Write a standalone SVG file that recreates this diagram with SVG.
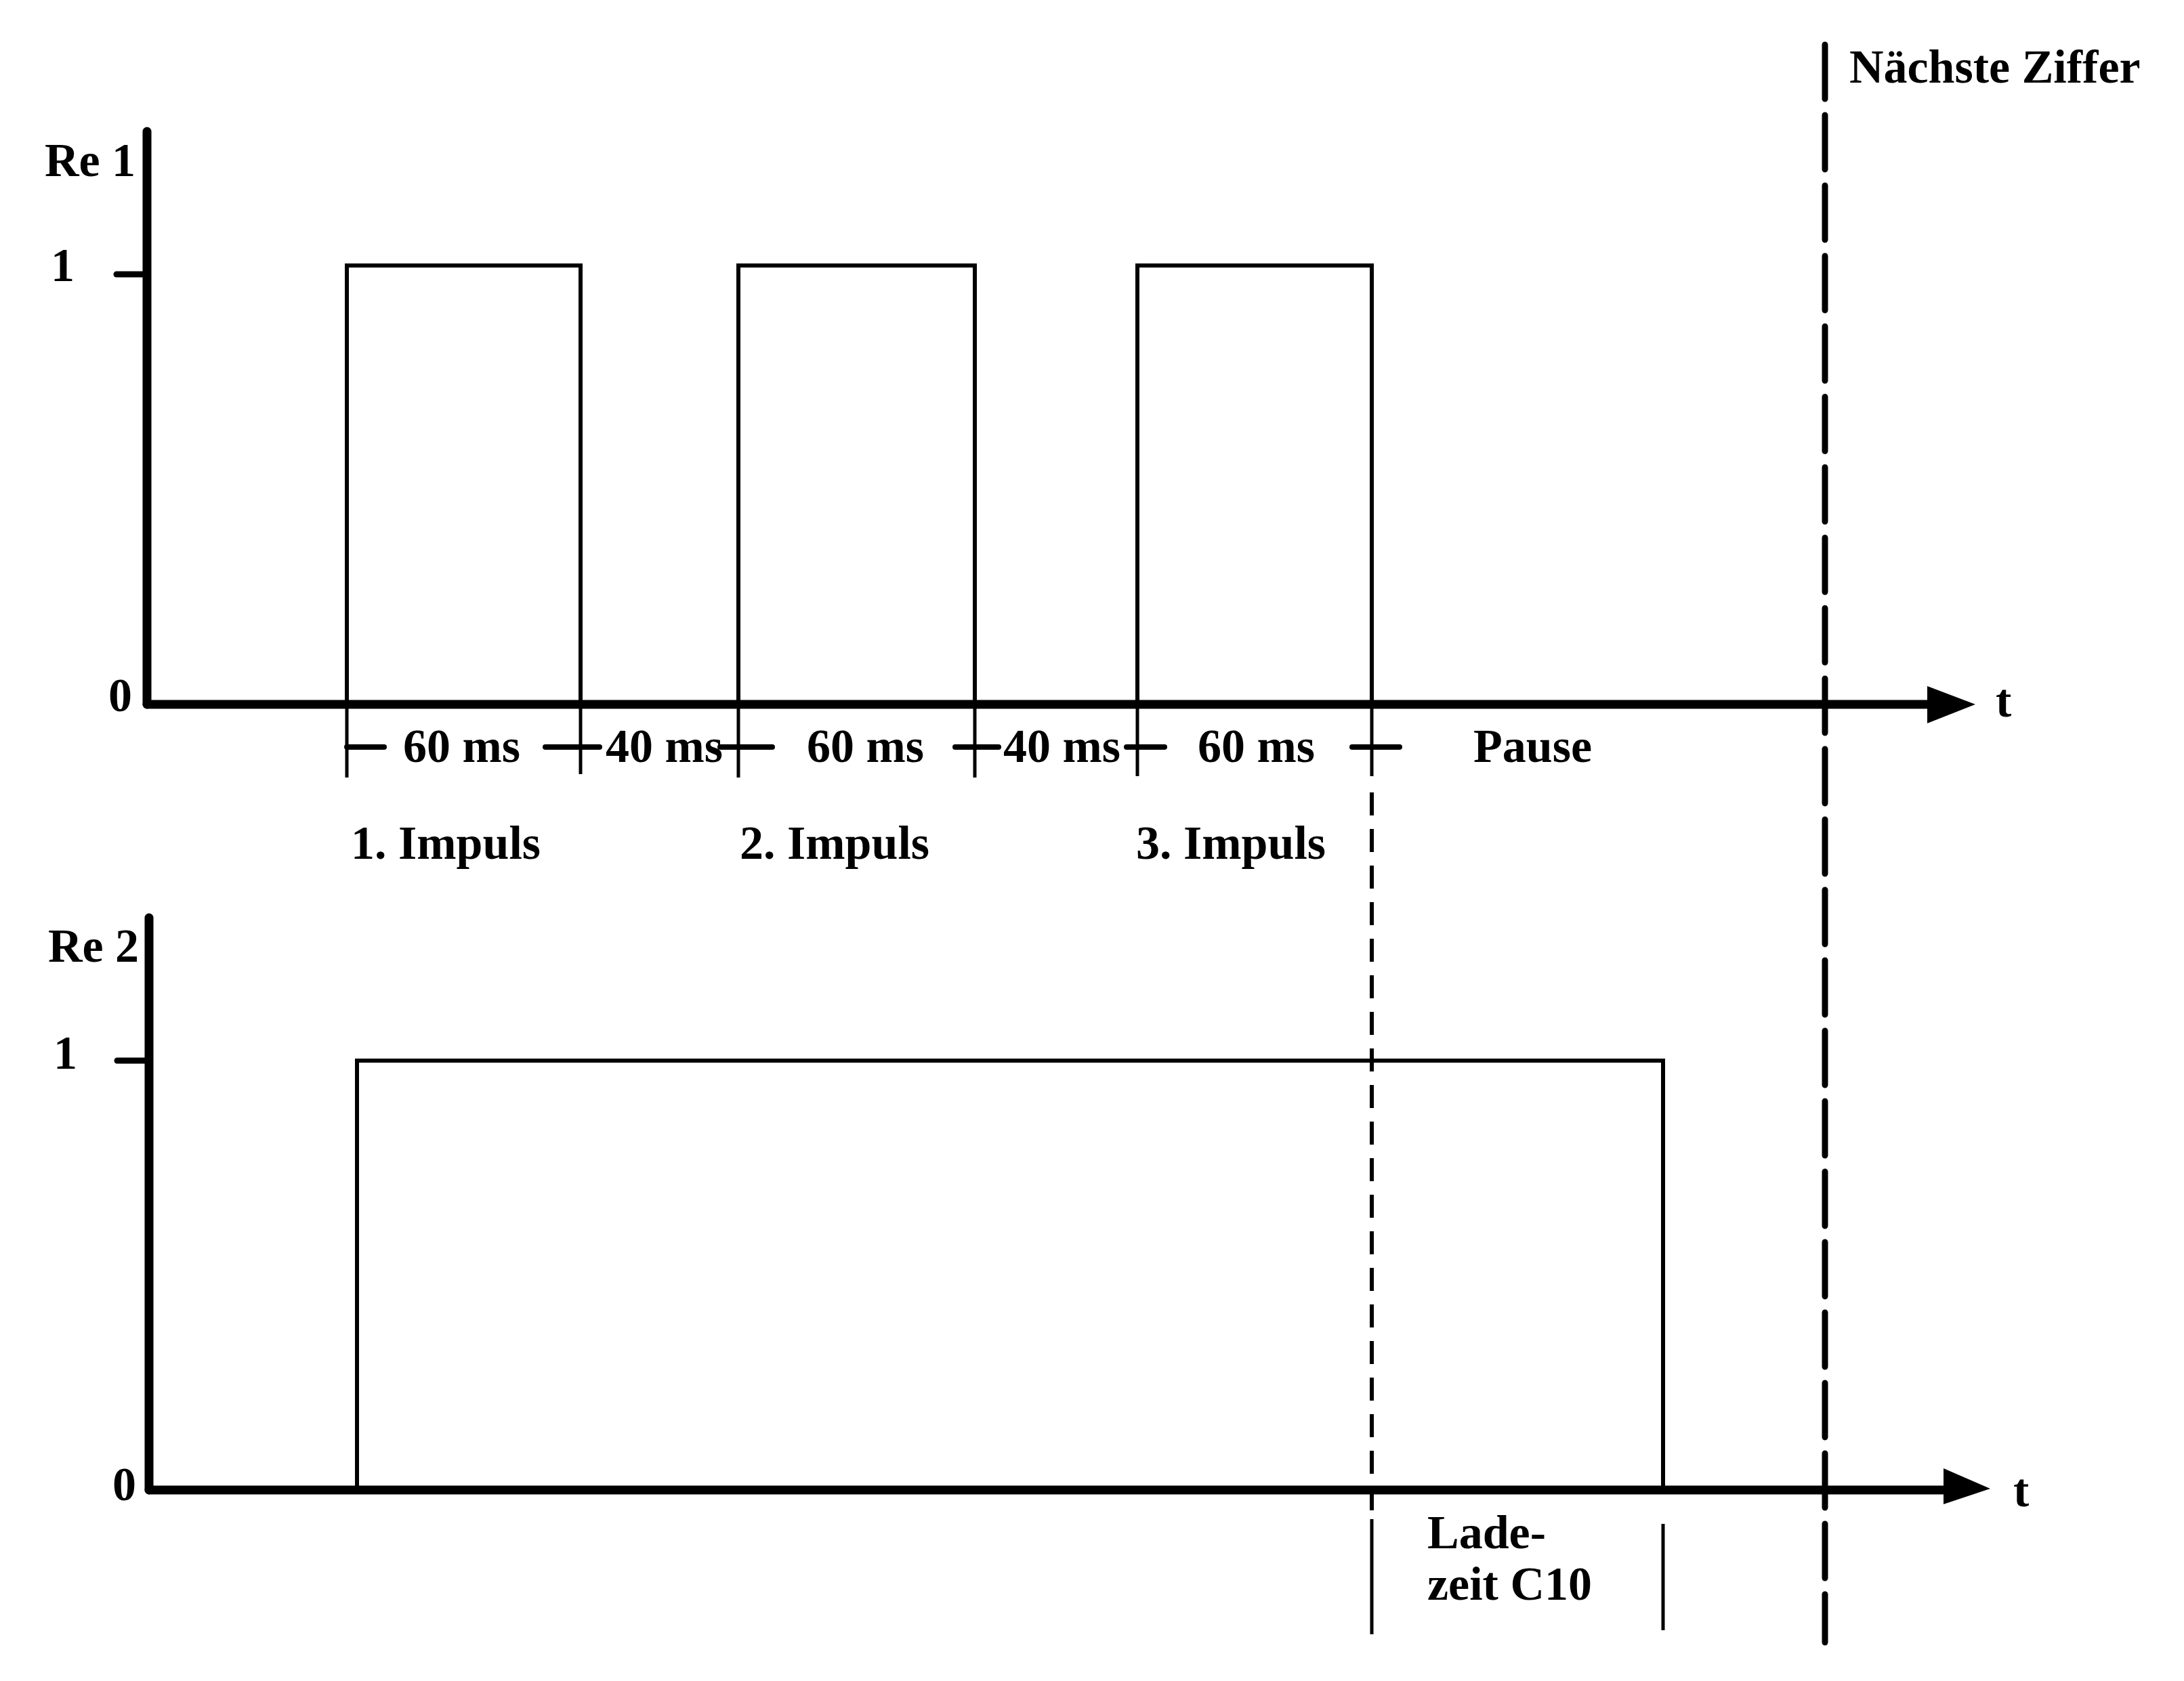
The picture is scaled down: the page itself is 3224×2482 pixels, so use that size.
<svg xmlns="http://www.w3.org/2000/svg" width="3224" height="2482" viewBox="0 0 3224 2482">
<style>
text{font-family:"Liberation Serif","Times New Roman",serif;font-weight:bold;font-size:70px;fill:#000}
.axis{stroke:#000;stroke-width:13;fill:none;stroke-linecap:round}
.sig{stroke:#000;stroke-width:6;fill:none;stroke-linejoin:miter}
.tick{stroke:#000;stroke-width:9;stroke-linecap:round}
.ext{stroke:#000;stroke-width:5;fill:none}
.dim{stroke:#000;stroke-width:8;stroke-linecap:round}
.dash1{stroke:#000;stroke-width:9;fill:none;stroke-dasharray:80 24;stroke-linecap:round}
.dash2{stroke:#000;stroke-width:6;fill:none;stroke-dasharray:34 20}
</style>
<rect width="3224" height="2482" fill="#fff"/>

<g id="chart-re1">
  <line class="axis" x1="217" y1="194" x2="217" y2="1040"/>
  <line class="axis" x1="217" y1="1040" x2="2860" y2="1040"/>
  <polygon points="2845,1013 2916,1040 2845,1068" fill="#000"/>
  <line class="tick" x1="172" y1="405" x2="217" y2="405"/>
  <text x="66" y="260">Re 1</text>
  <text x="75" y="415">1</text>
  <text x="160" y="1050">0</text>
  <text x="2946" y="1058">t</text>
</g>

<g id="pulses-re1">
  <polyline class="sig" points="512,1040 512,392 857,392 857,1040"/>
  <polyline class="sig" points="1090,1040 1090,392 1439,392 1439,1040"/>
  <polyline class="sig" points="1679,1040 1679,392 2025,392 2025,1040"/>
</g>

<g id="dimensions">
  <line class="ext" x1="512" y1="1040" x2="512" y2="1148"/>
  <line class="ext" x1="857" y1="1040" x2="857" y2="1143"/>
  <line class="ext" x1="1090" y1="1040" x2="1090" y2="1148"/>
  <line class="ext" x1="1439" y1="1040" x2="1439" y2="1148"/>
  <line class="ext" x1="1679" y1="1040" x2="1679" y2="1146"/>
  <line class="ext" x1="2025" y1="1040" x2="2025" y2="1146"/>
  <line class="dim" x1="512" y1="1103" x2="567" y2="1103"/>
  <line class="dim" x1="805" y1="1103" x2="885" y2="1103"/>
  <line class="dim" x1="1063" y1="1103" x2="1140" y2="1103"/>
  <line class="dim" x1="1410" y1="1103" x2="1474" y2="1103"/>
  <line class="dim" x1="1663" y1="1103" x2="1719" y2="1103"/>
  <line class="dim" x1="1996" y1="1103" x2="2066" y2="1103"/>
  <text x="595" y="1125">60 ms</text>
  <text x="894" y="1125">40 ms</text>
  <text x="1191" y="1125">60 ms</text>
  <text x="1481" y="1125">40 ms</text>
  <text x="1768" y="1125">60 ms</text>
  <text x="2175" y="1125">Pause</text>
  <text x="518" y="1268">1. Impuls</text>
  <text x="1092" y="1268">2. Impuls</text>
  <text x="1677" y="1268">3. Impuls</text>
</g>

<g id="chart-re2">
  <line class="axis" x1="220" y1="1355" x2="220" y2="2200"/>
  <line class="axis" x1="220" y1="2200" x2="2880" y2="2200"/>
  <polygon points="2869,2168 2938,2198 2869,2221" fill="#000"/>
  <line class="tick" x1="173" y1="1566" x2="220" y2="1566"/>
  <text x="71" y="1420">Re 2</text>
  <text x="79" y="1578">1</text>
  <text x="166" y="2215">0</text>
  <text x="2972" y="2224">t</text>
</g>

<g id="pulse-re2">
  <polyline class="sig" points="527,2200 527,1566 2455,1566 2455,2200"/>
</g>

<g id="connectors">
  <line class="dash2" x1="2025" y1="1170" x2="2025" y2="2230"/>
  <line class="ext" x1="2025" y1="2243" x2="2025" y2="2413"/>
  <line class="ext" x1="2455" y1="2250" x2="2455" y2="2407"/>
  <line class="dash1" x1="2694" y1="66" x2="2694" y2="2425"/>
</g>

<g id="ladezeit">
  <text x="2107" y="2286">Lade-</text>
  <text x="2107" y="2362">zeit C10</text>
</g>

<g id="naechste-ziffer">
  <text x="2730" y="122">Nächste Ziffer</text>
</g>
</svg>
